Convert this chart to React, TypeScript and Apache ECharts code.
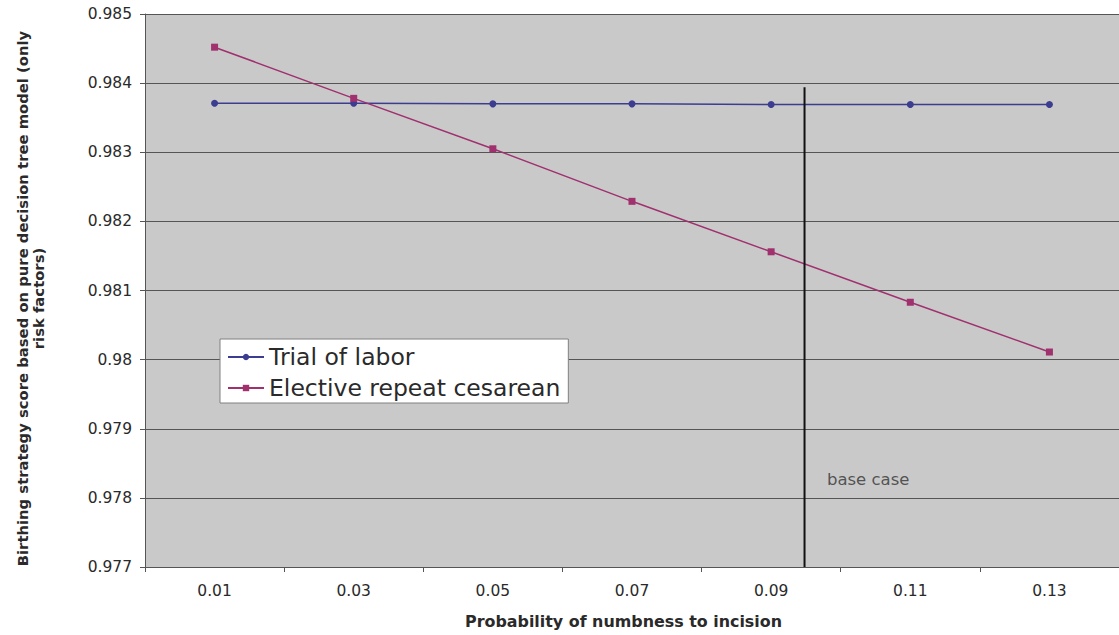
import React, { useEffect, useRef } from "react";
import * as echarts from "echarts";

const categories = ["0.01", "0.03", "0.05", "0.07", "0.09", "0.11", "0.13"];
const trialOfLabor = [0.98371, 0.98371, 0.9837, 0.9837, 0.98369, 0.98369, 0.98369];
const electiveRepeat = [0.98452, 0.98378, 0.98305, 0.98229, 0.98156, 0.98083, 0.98011];
const baseCaseX = 0.0948;
const baseCaseTop = 0.98394;
const baseCaseLabelPos = [0.0973, 0.97826];

const FONT = "'DejaVu Sans', Verdana, sans-serif";

export default function App() {
  const ref = useRef<HTMLDivElement>(null);
  useEffect(() => {
    const chart = echarts.init(ref.current!, undefined, { renderer: "svg" });
    chart.setOption({
      animation: false,
      textStyle: { fontFamily: FONT },
      grid: {
        left: 145,
        top: 14,
        width: 979,
        height: 553,
        show: true,
        backgroundColor: "#c9c9c9",
        borderWidth: 0,
      },
      legend: {
        data: ["Trial of labor", "Elective repeat cesarean"],
        orient: "vertical",
        left: 220,
        top: 339,
        backgroundColor: "#ffffff",
        borderColor: "#808080",
        borderWidth: 1,
        padding: [6, 8, 3, 7],
        itemWidth: 36,
        itemHeight: 8,
        itemGap: 7,
        textStyle: { fontSize: 23.5, color: "#2a2a2a", fontFamily: FONT },
      },
      xAxis: [
        {
          type: "category",
          data: categories,
          boundaryGap: true,
          name: "Probability of numbness to incision",
          nameLocation: "middle",
          nameGap: 46,
          nameTextStyle: {
            fontSize: 15.9,
            fontWeight: "bold",
            color: "#2a2a2a",
            fontFamily: FONT,
            padding: [0, 17, 0, 0],
          },
          axisLine: { lineStyle: { color: "#555", width: 1 } },
          axisTick: { show: true, length: 5, lineStyle: { color: "#555" } },
          axisLabel: { fontSize: 15.5, color: "#2a2a2a", margin: 16, fontFamily: FONT },
          splitLine: { show: false },
        },
        {
          type: "value",
          min: 0,
          max: 0.14,
          show: false,
        },
      ],
      yAxis: {
        type: "value",
        min: 0.977,
        max: 0.985,
        interval: 0.001,
        name: "Birthing strategy score based on pure decision tree model (only\nrisk factors)",
        nameLocation: "middle",
        nameGap: 99,
        nameTextStyle: {
          fontSize: 14.8,
          fontWeight: "bold",
          color: "#2a2a2a",
          lineHeight: 16,
          fontFamily: FONT,
          padding: [0, 16, 0, 0],
        },
        axisLine: { show: true, lineStyle: { color: "#555", width: 1 } },
        axisTick: { show: true, length: 5, lineStyle: { color: "#555" } },
        axisLabel: {
          fontSize: 15.5,
          color: "#2a2a2a",
          margin: 13,
          fontFamily: FONT,
          formatter: (v: number) => String(parseFloat(v.toFixed(3))),
        },
        splitLine: { show: true, lineStyle: { color: "#555", width: 1 } },
      },
      series: [
        {
          name: "Trial of labor",
          type: "line",
          data: trialOfLabor,
          symbol: "circle",
          symbolSize: 7,
          color: "#3c3c90",
          lineStyle: { width: 1.5, color: "#3c3c90" },
          itemStyle: { color: "#3c3c90" },
        },
        {
          name: "Elective repeat cesarean",
          type: "line",
          data: electiveRepeat,
          symbol: "rect",
          symbolSize: 7,
          color: "#a0306e",
          lineStyle: { width: 1.5, color: "#a0306e" },
          itemStyle: { color: "#a0306e" },
        },
        {
          name: "base case line",
          type: "line",
          xAxisIndex: 1,
          data: [
            [baseCaseX, 0.977],
            [baseCaseX, baseCaseTop],
          ],
          symbol: "none",
          lineStyle: { width: 2, color: "#111" },
          silent: true,
        },
        {
          name: "base case label",
          type: "scatter",
          xAxisIndex: 1,
          data: [baseCaseLabelPos],
          symbolSize: 0,
          silent: true,
          label: {
            show: true,
            position: "right",
            distance: 5,
            formatter: "base case",
            fontSize: 16.5,
            color: "#333",
            fontFamily: FONT,
          },
        },
      ],
    });
    return () => chart.dispose();
  }, []);
  return (
    <div
      ref={ref}
      style={{ position: "fixed", left: 0, top: 0, width: 1119, height: 635, background: "#fff" }}
    />
  );
}
